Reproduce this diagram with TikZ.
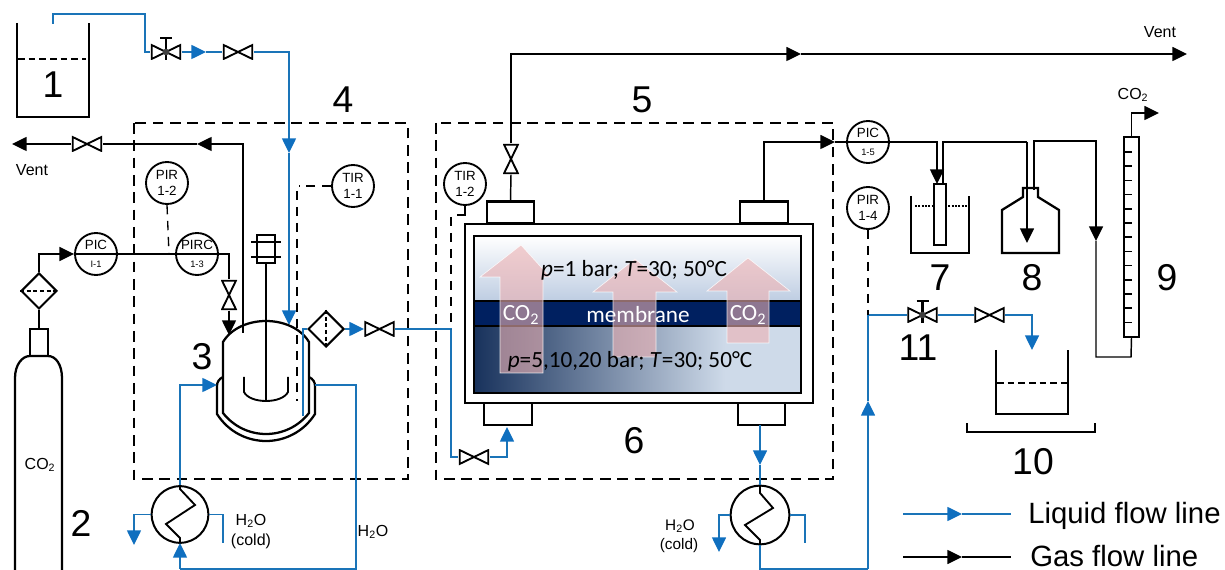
\documentclass[tikz,border=0pt]{standalone}
\usepackage{fontspec}
\setmainfont{Liberation Sans}
\newfontfamily\calfont{Carlito}
\usetikzlibrary{arrows.meta,shapes.geometric}
\definecolor{flowblue}{HTML}{1A74B8}
\definecolor{tipblue}{HTML}{0F6FBF}
\definecolor{navy}{HTML}{002060}
\definecolor{pinkarrow}{RGB}{238,177,178}
\definecolor{botdark}{RGB}{24,50,92}
\definecolor{botlight}{RGB}{206,218,233}
\definecolor{toplight}{RGB}{190,205,226}
\tikzset{
  vessel/.style={draw=black,line width=1.7pt,line join=miter},
  gas/.style={draw=black,line width=1.1pt,>={Triangle[length=11pt,width=10.5pt]}},
  liq/.style={draw=flowblue,line width=1.1pt,>={Triangle[length=11pt,width=10.5pt,color=tipblue]}},
  signal/.style={draw=black,line width=1pt,dash pattern=on 7pt off 5pt},
  zone/.style={draw=black,line width=1.7pt,dash pattern=on 8pt off 5pt},
  bignum/.style={inner sep=0pt,font=\fontsize{28}{30}\selectfont},
  small/.style={inner sep=0pt,align=center,font=\fontsize{12}{14}\selectfont},
  legendtxt/.style={inner sep=0pt,anchor=base west,font=\fontsize{22}{24}\selectfont},
  instr/.style={circle,draw=black,line width=1.4pt,minimum size=31.5pt,inner sep=0pt,align=center,font=\fontsize{10}{11.5}\selectfont},
  instrcut/.style={instr,font=\fontsize{10}{14}\selectfont},
  valveh/.style={rectangle,inner sep=0pt,minimum width=23pt,minimum height=12pt,path picture={
    \draw[line width=1.4pt,line join=miter] ([shift={(.8pt,.8pt)}]path picture bounding box.south west) -- ([shift={(-.8pt,-.8pt)}]path picture bounding box.north east) -- ([shift={(-.8pt,.8pt)}]path picture bounding box.south east) -- ([shift={(.8pt,-.8pt)}]path picture bounding box.north west) -- cycle;}},
  valvev/.style={rectangle,inner sep=0pt,minimum width=12pt,minimum height=23pt,path picture={
    \draw[line width=1.4pt,line join=miter] ([shift={(.8pt,.8pt)}]path picture bounding box.south west) -- ([shift={(-.8pt,-.8pt)}]path picture bounding box.north east) -- ([shift={(.8pt,-.8pt)}]path picture bounding box.north west) -- ([shift={(-.8pt,.8pt)}]path picture bounding box.south east) -- cycle;}},
  filterbox/.style={diamond,aspect=1,draw=black,line width=1.5pt,minimum size=27pt,inner sep=0pt},
  exchanger/.style={circle,draw=black,line width=1.5pt,inner sep=0pt},
  nozzle/.style={rectangle,draw=black,line width=1.7pt,inner sep=0pt,minimum height=16.5pt,minimum width=35.5pt},
  co2arrow/.style={fill=pinkarrow,fill opacity=.6,draw=white,draw opacity=.8,line width=.5pt},
  modtxt/.style={inner sep=0pt,font=\calfont\fontsize{17.4}{19}\selectfont},
  memtxt/.style={modtxt,text=white},
}
\newcommand{\cstem}[1]{%
  \draw[line width=1.6pt] ([yshift=-6pt]#1.center) -- ++(0,16.5pt) ++(-4.5pt,0) -- ++(9pt,0);
  \fill[black!75] (#1.center) circle (2.5pt);}
\begin{document}
\begin{tikzpicture}[x=.75pt,y=-.75pt]
\useasboundingbox (0,0) rectangle (1225,570);

% --- membrane module
\shade[top color=white,bottom color=toplight] (474,236) rectangle (801,301);
\shade[left color=botdark,right color=botlight] (474,326) rectangle (725,393);
\fill[botlight] (725,326) rectangle (801,393);
\fill[navy] (474,301) rectangle (801,326);
\draw[line width=1.3pt] (474,301) -- (801,301) (474,326) -- (801,326);
\node[vessel,rectangle,minimum width=261pt,minimum height=134.25pt,inner sep=0pt] (module) at (639,313.5) {};
\node[vessel,rectangle,minimum width=245.25pt,minimum height=117.75pt,inner sep=0pt] (chamber) at (637.5,314.5) {};
\draw[co2arrow] (521,245) -- (550,277) -- (543,277) -- (543,373) -- (500,373) -- (500,277) -- (480,277) -- cycle;
\draw[co2arrow] (635,259) -- (677,292) -- (656,292) -- (656,357) -- (613,357) -- (613,292) -- (593,292) -- cycle;
\draw[co2arrow] (748,258) -- (790,291) -- (769,291) -- (769,343) -- (727,343) -- (727,291) -- (707,291) -- cycle;
\node[modtxt] (ptop) at (634,270) {\textit{p}=1 bar; \textit{T}=30; 50°C};
\node[modtxt] (pbot) at (630,361) {\textit{p}=5,10,20 bar; \textit{T}=30; 50°C};
\node[memtxt] (memb) at (638,315) {membrane};
\node[memtxt] (co2a) at (521,315) {CO\textsubscript{2}};
\node[memtxt] (co2b) at (748,315) {CO\textsubscript{2}};

% --- nozzles
\node[nozzle] (ntl) at (510.5,212.5) {};
\node[nozzle] (ntr) at (764,212.5) {};
\node[nozzle] (nbl) at (508,414) {};
\node[nozzle] (nbr) at (761.5,414) {};

% --- dashed zones
\draw[zone] (134,123) rectangle (408,479);
\draw[zone] (436,123) rectangle (833,479);
\node[bignum] (n4) at (343,100) {4};
\node[bignum] (n5) at (642,100) {5};
\node[bignum] (n6) at (634,441) {6};

% --- tank 1
\draw[vessel] (17,23) -- (17,117) -- (89,117) -- (89,23);
\draw[line width=.8pt,dash pattern=on 5pt off 3pt] (18,59) -- (86,59);
\node[bignum] (n1) at (53,85) {1};
\coordinate (t1) at (53,24);

% --- feed line from tank 1
\node[valveh] (cv1) at (166,52) {};
\node[valveh] (v2) at (238,52) {};
\coordinate (a1) at (206,52);
\coordinate (r1) at (289,153);
\coordinate (r2) at (289,325);
\draw[liq] (t1) |- (145,14) |- (cv1.west);
\draw[liq,->] (cv1.east) -- (a1);
\draw[liq] (a1) -- (v2.west);
\draw[liq,->] (v2.east) -| (r1);
\draw[liq,->] (r1) -- (r2);
\cstem{cv1}

% --- reactor 3
\draw[vessel] (223,413) -- (223,342) .. controls (240,314) and (292,314) .. (309,342) -- (309,413) .. controls (287,441) and (245,441) .. (223,413) -- cycle;
\draw[vessel] (223,377) .. controls (219,379) and (217,382) .. (217,386) -- (217,414) .. controls (240,450) and (292,450) .. (315,414) -- (315,386) .. controls (315,382) and (313,379) .. (309,377);
\coordinate (jl) at (217,385);
\coordinate (jr) at (315,385);
\node[bignum] (n3) at (202,357) {3};
% agitator
\node[rectangle,draw=black,line width=1.5pt,minimum width=13.5pt,minimum height=21pt,inner sep=0pt] (motor) at (266,249) {};
\draw[line width=1.3pt] (251,242) -- (281,242) (251,257) -- (281,257);
\coordinate (imp) at (266,400);
\draw[line width=1.4pt] (motor.south) -- (imp);
\draw[line width=1.4pt] (244,377) -- (244,392) .. controls (250,404) and (282,404) .. (288,392) -- (288,377);

% --- reactor vent
\node[valveh] (v3) at (87,144) {};
\coordinate (a2) at (197,144);
\coordinate (ventl) at (12,144);
\coordinate (rvent) at (243,333);
\draw[gas,->] (rvent) |- (a2);
\draw[gas] (a2) -- (v3.east);
\draw[gas,->] (v3.west) -- (ventl);
\node[small] (ventltxt) at (32,170) {Vent};

% --- CO2 cylinder and feed
\draw[vessel] (15,570) -- (15,378) .. controls (15,365) and (22,356) .. (30,356) -- (48,356) .. controls (56,356) and (62,365) .. (62,378) -- (62,570);
\node[rectangle,draw=black,line width=1.5pt,minimum width=13.5pt,minimum height=20pt,inner sep=0pt] (neck) at (39,342.5) {};
\node[filterbox] (f1) at (39,291) {};
\draw[line width=1pt,dash pattern=on 3pt off 2pt] (f1.west) -- (f1.east);
\draw[line width=1.1pt] (neck.north) -- (f1.south);
\node[small] (cyltxt) at (40,465) {CO\textsubscript{2}};
\node[bignum] (n2) at (81,523) {2};

\node[instrcut] (pic1) at (96,254) {\makebox[0pt]{PIC}\\[-.5pt]{\fontsize{7}{8}\selectfont I-1}};
\node[instrcut] (pirc) at (197,254) {\makebox[0pt]{PIRC}\\[-.5pt]{\fontsize{7}{8}\selectfont 1-3}};
\node[instr] (pir2) at (167,183) {PIR\\1-2};
\node[instr] (tir1) at (353,186) {TIR\\1-1};
\node[valvev] (v4) at (229,295) {};
\coordinate (rin) at (229,335);
\draw[gas,->] (f1.north) |- (pic1.west);
\draw[gas] (pic1.west) -- (pirc.east) -| (v4.north);
\draw[gas,->] (v4.south) -- (rin);
\draw[signal] (pir2.south) -- (169,254);
\coordinate (tdrop) at (297,401);
\draw[signal] (tir1.west) -- (299,186);
\draw[signal] (297,191) -- (tdrop);

% --- reactor outlet
\node[filterbox] (f2) at (326,329) {};
\draw[line width=1pt,dash pattern=on 3pt off 2pt] (f2.north) -- (f2.south);
\node[valveh] (v5) at (379.5,329) {};
\coordinate (dip) at (303,416);
\coordinate (a3) at (364,329);
\coordinate (lj) at (451,329);
\coordinate (a4) at (507,427);
\draw[liq] (dip) |- (f2.west);
\draw[liq,->] (f2.east) -- (a3);
\node[valveh] (v6) at (474,457) {};
\draw[liq] (v5.east) -- (lj) |- (v6.west);
\draw[liq,->] (v6.east) -| (a4);

% --- TIR 1-2
\node[instr] (tir2) at (465,184) {TIR\\1-2};
\draw[line width=1pt] (tir2.south) -- (465,215) -- (457,215);
\draw[signal] (451,217) -- (lj);

% --- heat exchanger left
\node[exchanger,minimum size=42.5pt] (hx1) at (180,514.5) {};
\draw[line width=1.4pt] (hx1.north) -- (180,489) -- (195,505) -- (166,524) -- (180,538) -- (hx1.south);
\coordinate (a5) at (217,385);
\coordinate (hxl) at (134,545);
\coordinate (hxr) at (223,543);
\coordinate (a6) at (180,543);
\draw[liq,->] (hx1.north) |- (a5);
\draw[liq] (jr) -- (356,385) |- (180,569);
\draw[liq,->] (180,569) -- (a6);
\draw[liq,->] (hx1.west) -| (hxl);
\draw[liq] (hx1.east) -| (hxr);
\node[small] (h2oa) at (251,521) {H\textsubscript{2}O};
\node[small] (colda) at (251,541) {(cold)};
\node[small] (h2ob) at (373,532) {H\textsubscript{2}O};

% --- top vent
\node[valvev] (v7) at (511,159) {};
\coordinate (a7) at (801,54);
\coordinate (vent2) at (1187,54);
\draw[gas] (ntl.north) -- (v7.south);
\draw[gas,->] (v7.north) |- (a7);
\draw[gas,->] (a7) -- (vent2);
\node[small] (vent2txt) at (1160,32) {Vent};

% --- permeate to analysers
\node[instrcut] (pic5) at (868,142) {\makebox[0pt]{PIC}\\[-.5pt]{\fontsize{7}{8}\selectfont 1-5}};
\node[instr] (pir4) at (868,208) {PIR\\1-4};
\coordinate (a8) at (835,142);
\draw[gas,->] (ntr.north) |- (a8);
\draw[gas] (a8) -- (pic5.east);

% beaker 7
\draw[vessel] (911,196) -- (911,253) -- (969,253) -- (969,196);
\draw[line width=.8pt,dash pattern=on 1.5pt off 1pt] (915,206) -- (968,206);
\node[rectangle,draw=black,fill=white,line width=1.4pt,minimum width=8.5pt,minimum height=45.5pt,inner sep=0pt] (tube) at (940,214.5) {};
\coordinate (a9) at (937,184);
\draw[gas,->] (pic5.east) -- (937,142) -- (a9);
\node[bignum] (n7) at (940,278) {7};
% bottle 8
\draw[vessel] (1002,253) -- (1002,210) -- (1023,197) -- (1023,188) -- (1038,188) -- (1038,197) -- (1059,210) -- (1059,253) -- cycle;
\coordinate (a10) at (1027,243);
\draw[gas] (943,184) -- (943,142) -- (1027,142);
\draw[gas,->] (1027,142) -- (a10);
\node[bignum] (n8) at (1032,278) {8};
% burette 9
\node[rectangle,draw=black,line width=1.5pt,minimum width=11.25pt,minimum height=150pt,inner sep=0pt] (bur) at (1131.5,237) {};
\foreach \yy in {152,166.2,180.4,194.6,208.8,223,237.2,251.4,265.6,279.8,294,308.2,322.4}
  \draw[line width=1.1pt] (1124,\yy) -- (1132,\yy);
\coordinate (a11) at (1096,241);
\draw[gas,->] (1034,190) -- (1034,141) -- (1096,141) -- (a11);
\draw[gas] (a11) -- (1096,357) -- (1131,357) -- (bur.south);
\coordinate (co2out) at (1159,113);
\draw[gas,->] (bur.north) |- (co2out);
\node[small] (co2txt) at (1133,95) {CO\textsubscript{2}};
\node[bignum] (n9) at (1167,278) {9};

% --- right exchanger and return
\node[exchanger,minimum size=44pt] (hx2) at (760,515) {};
\draw[line width=1.4pt] (hx2.north) -- (760,493) -- (773,508) -- (745,525) -- (760,540) -- (hx2.south);
\coordinate (nbrout) at (760,425);
\coordinate (a12) at (760,465);
\coordinate (hx2l) at (719,552);
\coordinate (hx2r) at (805,543);
\draw[liq,->] (nbrout) -- (a12);
\draw[liq] (a12) -- (hx2.north);
\draw[liq,->] (hx2.west) -| (hx2l);
\draw[liq] (hx2.east) -| (hx2r);
\node[small,font=\fontsize{11.5}{13}\selectfont] (h2oc) at (680,526) {H\textsubscript{2}O};
\node[small,font=\fontsize{11.5}{13}\selectfont] (coldc) at (679,546) {(cold)};
\coordinate (a13) at (868,401);
\coordinate (bot) at (868,569);
\draw[liq] (hx2.south) |- (bot);
\draw[liq,->] (bot) -- (a13);

% --- product line
\node[valveh] (cv2) at (922.5,315) {};
\node[valveh] (v8) at (989.5,315) {};
\coordinate (j2) at (868,315);
\coordinate (a14) at (1032,350);
\draw[liq] (a13) -- (j2) -- (cv2.west);
\draw[liq] (cv2.east) -- (v8.west);
\draw[liq,->] (v8.east) -| (a14);
\cstem{cv2}
\draw[signal] (pir4.south) -- (j2);
\node[bignum] (n11) at (918,348) {11};

% vessel 10
\draw[vessel] (996,350) -- (996,414) -- (1068,414) -- (1068,350);
\draw[line width=.8pt,dash pattern=on 5pt off 3pt] (997,383) -- (1067,383);
\draw[line width=1.5pt] (967,423) -- (967,432) -- (1095,432) -- (1095,423);
\node[bignum] (n10) at (1033,462) {10};

% --- legend
\coordinate (l1) at (903,514);
\coordinate (l2) at (962,514);
\coordinate (l3) at (1011,514);
\coordinate (l4) at (903,557);
\coordinate (l5) at (962,557);
\coordinate (l6) at (1011,557);
\draw[liq,->] (l1) -- (l2);
\draw[liq] (l2) -- (l3);
\draw[gas,->] (l4) -- (l5);
\draw[gas] (l5) -- (l6);
\node[legendtxt] (ltxt) at (1028,523) {Liquid flow line};
\node[legendtxt] (gtxt) at (1030,566) {Gas flow line};
\end{tikzpicture}
\end{document}
